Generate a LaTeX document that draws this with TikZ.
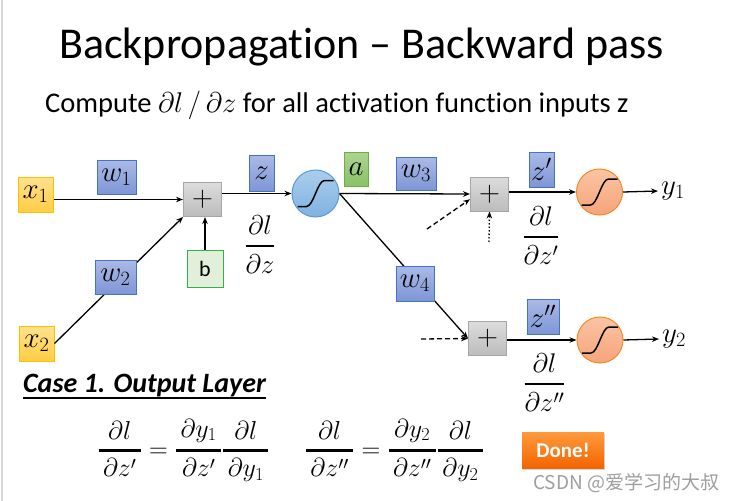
\RequirePackage{fix-cm}
\documentclass[tikz,border=0pt]{standalone}
\usepackage{amsmath}
\usepackage{fontspec}
\setmainfont{Carlito}[Ligatures=NoCommon]
\newfontfamily\cjkfont{Noto Sans CJK SC}
\usetikzlibrary{positioning,calc,arrows.meta,shadows}

\definecolor{wtop}{HTML}{AAB9E6}
\definecolor{wbot}{HTML}{7F96D6}
\definecolor{wline}{HTML}{4472C4}
\definecolor{xtop}{HTML}{FFE28E}
\definecolor{xbot}{HTML}{FFCD45}
\definecolor{xline}{HTML}{FFC000}
\definecolor{ptop}{HTML}{DCDCDC}
\definecolor{pbot}{HTML}{BCBCBC}
\definecolor{pline}{HTML}{A6A6A6}
\definecolor{bfill}{HTML}{E2F0D9}
\definecolor{bline}{HTML}{2DB34A}
\definecolor{atop}{HTML}{ADD493}
\definecolor{abot}{HTML}{88C266}
\definecolor{aline}{HTML}{70AD47}
\definecolor{stop}{HTML}{AACDEC}
\definecolor{sbot}{HTML}{7FB2E1}
\definecolor{sline}{HTML}{5B9BD5}
\definecolor{otop}{HTML}{FBC4A4}
\definecolor{obot}{HTML}{F5A47A}
\definecolor{oline}{HTML}{F7891F}
\definecolor{dtop}{HTML}{FF9A3C}
\definecolor{dbot}{HTML}{F46400}

\newcommand{\thickfrac}[2]{\genfrac{}{}{2.4pt}{0}{#1}{#2}}
\newcommand{\widefrac}[2]{\genfrac{}{}{2.4pt}{0}{\,#1\,}{\,#2\,}}

\tikzset{
  mathsize/.style={font=\fontsize{29}{34}\selectfont},
  fracsize/.style={font=\fontsize{27}{32}\selectfont},
  xbox/.style={draw=xline,line width=1pt,top color=xtop,bottom color=xbot,
    minimum width=35pt,minimum height=35pt,mathsize},
  wbox/.style={draw=wline,line width=1pt,top color=wtop,bottom color=wbot,
    minimum width=39pt,minimum height=34pt,mathsize},
  abox/.style={draw=aline,line width=1pt,top color=atop,bottom color=abot,
    minimum width=24pt,minimum height=34pt,mathsize},
  addbox/.style={draw=pline,line width=1pt,top color=ptop,bottom color=pbot,
    minimum width=38pt,minimum height=34pt,mathsize},
  biasbox/.style={draw=bline,line width=1pt,fill=bfill,
    minimum width=36pt,minimum height=37pt,font=\fontsize{22}{26}\selectfont},
  sigblue/.style={circle,draw=sline,line width=1pt,top color=stop,bottom color=sbot,
    minimum size=47pt},
  sigorange/.style={circle,draw=oline,line width=1pt,top color=otop,bottom color=obot,
    minimum size=46pt},
  conn/.style={line width=1.3pt,-{Stealth[length=7pt,width=5.5pt]}},
  dashline/.style={dash pattern=on 5pt off 3pt},
  dotline/.style={dash pattern=on 1.5pt off 2pt},
}

\begin{document}
\begin{tikzpicture}[x=1pt,y=-1pt,every node/.style={inner sep=0pt}]
\fill[white] (0,0) rectangle (732,501);
\useasboundingbox (0,0) rectangle (732,501);
\draw[black!15,line width=2pt] (1.5,0) -- (1.5,501);

% headings
\node[font=\fontsize{44}{52}\selectfont,anchor=base] (title) at (361.5,58)
  {Backpropagation \textendash{} Backward pass};
\node[font=\fontsize{28.5}{33}\selectfont,anchor=base west] (sub) at (45,112)
  {Compute $\partial l\,/\,\partial z$ for all activation function inputs z};

% neurons
\node[xbox] (x1) at (35.5,194.5) {$x_1$};
\node[xbox] (x2) at (36.5,343.5) {$x_2$};
\node[addbox] (plus) at (202.5,199.5) {$+$};
\node[biasbox] (b) at (205,268.5) {b};
\node[sigblue] (sig) at (315.5,193.5) {};
\node[addbox] (plus1) at (489.5,194) {$+$};
\node[sigorange] (sig1) at (599.5,192) {};
\node[addbox] (plus2) at (487.5,338.5) {$+$};
\node[sigorange] (sig2) at (600,340) {};
\node[mathsize,anchor=west,inner sep=3pt] (y1) at (658,191) {$y_1$};
\node[mathsize,anchor=west,inner sep=3pt] (y2) at (659,339) {$y_2$};
\coordinate (in1) at (427,229);
\coordinate (in2) at (489,242);
\coordinate (in3) at (421,339);

\foreach \c in {sig,sig1,sig2}
  \draw[line width=1.5pt] ($(\c)+(-18,13)$) -- ++(9,0)
    .. controls +(7,0) and +(-7,0) .. ++(18,-26) -- ++(9,0);

% connections
\draw[conn] (x1.east |- plus) -- (plus.west);
\draw[conn] (x2.east) -- (plus.south west);
\draw[conn] (b.north) -- (b.north |- plus.south);
\draw[conn] (plus.east |- sig) -- (sig.west);
\draw[conn] (sig.east) -- (plus1.west);
\draw[conn] (sig.east) -- (plus2.west);
\draw[conn,dashline] (in1) -- (plus1.195);
\draw[conn,dotline] (in2) -- (plus1.south);
\draw[conn,dashline] (in3) -- (plus2.west);
\draw[conn] (plus1.east |- sig1) -- (sig1.west);
\draw[conn] (plus2.east |- sig2) -- (sig2.west);
\draw[conn] (sig1.east) -- (y1.west);
\draw[conn] (sig2.east) -- (y2.west);

% weights and values
\node[wbox] (w1) at (116.5,177) {$w_1$};
\node[wbox,minimum width=41pt] (w2) at (115.5,277) {$w_2$};
\node[wbox,minimum width=40pt,minimum height=33pt] (w3) at (416,173.5) {$w_3$};
\node[wbox,minimum width=38pt,minimum height=35pt] (w4) at (415,283.5) {$w_4$};
\node[wbox,minimum width=25pt,minimum height=36pt] (zval) at (261.5,173) {$z$};
\node[wbox,minimum width=25pt,minimum height=35pt] (z1val) at (541.5,169.5) {$z'$};
\node[wbox,minimum width=32pt,minimum height=35pt] (z2val) at (543,316.5) {$z''$};
\node[abox] (aval) at (356,169) {$a$};

% gradients
\node[fracsize,anchor=base] (dz) at (260,253) {$\thickfrac{\partial l}{\partial z}$};
\node[fracsize,anchor=base] (dz1) at (541,244) {$\thickfrac{\partial l}{\partial z'}$};
\node[fracsize,anchor=base] (dz2) at (544.5,391) {$\thickfrac{\partial l}{\partial z''}$};

% case 1
\node[font=\fontsize{28}{32}\selectfont\bfseries\itshape,anchor=base west] (case) at (23,392)
  {Case 1. Output Layer};
\draw[line width=1.5pt] ($(case.base west)+(0,6)$) -- ($(case.base east)+(0,6)$);
\node[font=\fontsize{26}{30}\selectfont,anchor=base] (eq1) at (183.5,457)
  {$\widefrac{\partial l}{\partial z'} = \widefrac{\partial y_1}{\partial z'}\widefrac{\partial l}{\partial y_1}$};
\node[font=\fontsize{26}{30}\selectfont,anchor=base] (eq2) at (394.5,457)
  {$\widefrac{\partial l}{\partial z''} = \widefrac{\partial y_2}{\partial z''}\widefrac{\partial l}{\partial y_2}$};

\node[top color=dtop,bottom color=dbot,minimum width=82pt,minimum height=36pt,
  drop shadow={opacity=0.3,shadow xshift=1pt,shadow yshift=-1.5pt},
  text=white,font=\fontsize{21}{24}\selectfont\bfseries] (done) at (563,450) {Done!};
\node[font=\cjkfont\fontsize{19}{22}\selectfont,text=black!38,anchor=base west] (mark) at (533,489)
  {CSDN @爱学习的大叔};
\end{tikzpicture}
\end{document}
